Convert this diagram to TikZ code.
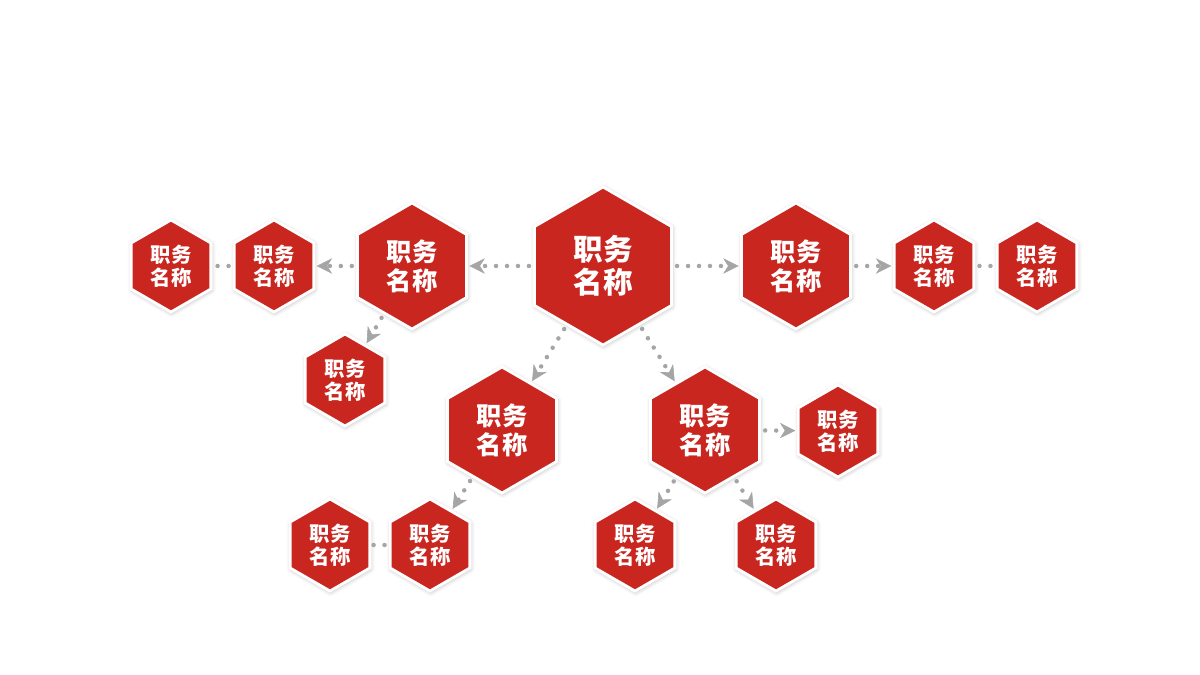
\documentclass[tikz,border=0pt]{standalone}
\usepackage{fontspec}
\newfontfamily\cjk{Noto Sans CJK SC}
\usetikzlibrary{shapes.geometric,arrows.meta,shadows.blur}

\definecolor{hexred}{RGB}{200,38,31}
\definecolor{linkgray}{RGB}{165,165,165}

\tikzset{
  hexnode/.style={regular polygon, regular polygon sides=6, shape border rotate=30,
    fill=hexred, draw=white, line width=2pt, inner sep=0pt, outer sep=0pt,
    text=white, align=center,
    blur shadow={shadow xshift=0.5pt, shadow yshift=-0.8pt, shadow blur radius=3pt, shadow opacity=30}},
  hexbig/.style={hexnode, minimum size=39.5mm, font=\cjk\bfseries\fontsize{21}{23.5}\selectfont},
  hexmid/.style={hexnode, minimum size=31.5mm, font=\cjk\bfseries\fontsize{18}{20.6}\selectfont},
  hexsmall/.style={hexnode, minimum size=23mm, font=\cjk\bfseries\fontsize{14.5}{16.4}\selectfont},
  link/.style={color=linkgray, line width=3.2pt, line cap=round, dash pattern=on 0pt off 7.8pt,
    shorten <=4pt, shorten >=2pt},
  flow/.style={link, -{Stealth[length=11pt, width=11pt, inset=3.5pt, line width=0.4pt]}}
}

\begin{document}
\begin{tikzpicture}[x=0.025cm, y=-0.025cm]
        \useasboundingbox (0,0) rectangle (1200,675);

        % top row
        \node[hexbig] (chief) at (603,266) {职务\\名称};
        \node[hexmid] (west) at (412,266) {职务\\名称};
        \node[hexmid] (east) at (796,266) {职务\\名称};
        \node[hexsmall] (west1) at (274,266) {职务\\名称};
        \node[hexsmall] (west2) at (171,266) {职务\\名称};
        \node[hexsmall] (east1) at (934,266) {职务\\名称};
        \node[hexsmall] (east2) at (1037,266) {职务\\名称};
        \node[hexsmall] (westdown) at (345,380) {职务\\名称};

        % lower branches
        \node[hexmid] (south1) at (502,430) {职务\\名称};
        \node[hexmid] (south2) at (705,430) {职务\\名称};
        \node[hexsmall] (s1a) at (430,545) {职务\\名称};
        \node[hexsmall] (s1b) at (330,545) {职务\\名称};
        \node[hexsmall] (s2a) at (838,431) {职务\\名称};
        \node[hexsmall] (s2b) at (635,545) {职务\\名称};
        \node[hexsmall] (s2c) at (776,545) {职务\\名称};

        \path[flow]
        (chief) edge (west)
        (chief) edge (east)
        (chief) edge (south1)
        (chief) edge (south2)
        (west) edge (west1)
        (west) edge (westdown)
        (east) edge (east1)
        (south1) edge (s1a)
        (south2) edge (s2a)
        (south2) edge (s2b)
        (south2) edge (s2c)
        ;

        \path[link]
        (west1) edge (west2)
        (east1) edge (east2)
        (s1a) edge (s1b);
\end{tikzpicture}
\end{document}
